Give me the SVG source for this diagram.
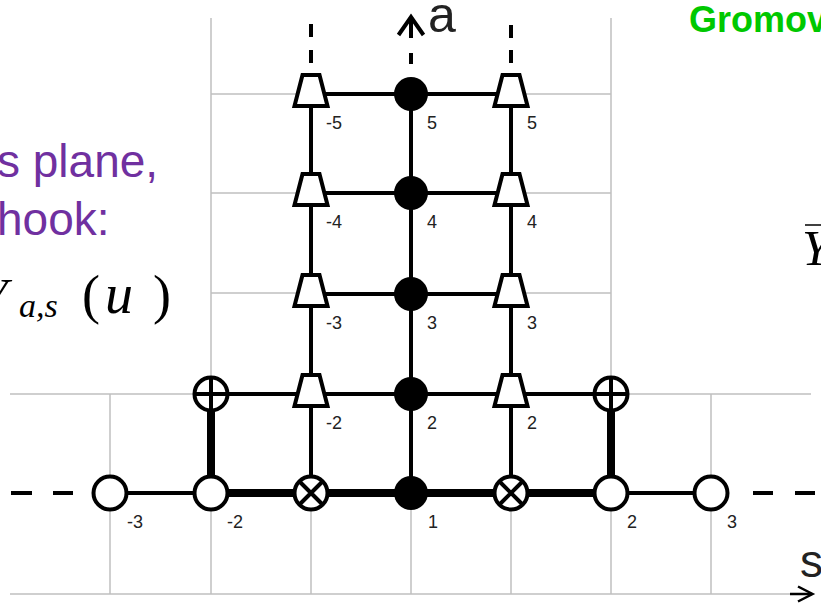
<svg xmlns="http://www.w3.org/2000/svg" width="821" height="606" viewBox="0 0 821 606">
<style>
.grid{stroke:#bfbfbf;stroke-width:1.5;fill:none}
.edge{stroke:#000;stroke-width:4;fill:none}
.thick{stroke:#000;stroke-width:8;fill:none}
.ax{stroke:#000;stroke-width:2.5;fill:none}
.open{fill:#fff;stroke:#000;stroke-width:4}
.filled{fill:#000}
.trap{fill:#fff;stroke:#000;stroke-width:4;stroke-linejoin:miter}
.lbl{font-family:"Liberation Sans",Arial,sans-serif;font-size:18px;fill:#222}
.big{font-family:"Liberation Sans",Arial,sans-serif;fill:#222}
.purple{font-family:"Liberation Sans",Arial,sans-serif;font-size:46px;fill:#7030a0}
.math{font-family:"Liberation Serif","Times New Roman",serif;fill:#000;font-style:italic}
.mathr{font-family:"Liberation Serif","Times New Roman",serif;fill:#000}
</style>
<defs>
<path id="trap" class="trap" d="M-8.5,-19 L8.5,-19 L16.5,12 L-16.5,12 Z"/>
<g id="otimes"><circle r="16.5" class="open"/><path class="edge" d="M-11.5,-11.5 L11.5,11.5 M-11.5,11.5 L11.5,-11.5"/></g>
<g id="oplus"><circle r="16.5" class="open"/><path class="edge" d="M-16.5,0 L16.5,0 M0,-16.5 L0,16.5"/></g>
</defs>

<g id="grid">
<line class="grid" x1="10" y1="594" x2="790" y2="594"/>
<line class="grid" x1="10" y1="394" x2="811" y2="394"/>
<line class="grid" x1="211" y1="94" x2="611" y2="94"/>
<line class="grid" x1="211" y1="193" x2="611" y2="193"/>
<line class="grid" x1="211" y1="293" x2="611" y2="293"/>
<line class="grid" x1="211" y1="18" x2="211" y2="594"/>
<line class="grid" x1="611" y1="18" x2="611" y2="594"/>
<line class="grid" x1="110" y1="394" x2="110" y2="594"/>
<line class="grid" x1="311" y1="394" x2="311" y2="594"/>
<line class="grid" x1="411" y1="394" x2="411" y2="594"/>
<line class="grid" x1="511" y1="394" x2="511" y2="594"/>
<line class="grid" x1="711" y1="394" x2="711" y2="594"/>
</g>

<g id="text">
<text class="purple" x="-3" y="177">s plane,</text>
<text class="purple" x="-3" y="235">hook:</text>
<text class="math" x="-20" y="313" font-size="50">Y</text>
<text class="math" x="19" y="317" font-size="34">a,s</text>
<text class="mathr" x="82" y="313" font-size="54">(</text>
<text class="math" x="105" y="313" font-size="56">u</text>
<text class="mathr" x="153" y="313" font-size="54">)</text>
<text x="689" y="32" font-family="'Liberation Sans',Arial,sans-serif" font-weight="bold" font-size="36" fill="#00c800">Gromov</text>
<line x1="805" y1="225" x2="821" y2="225" stroke="#000" stroke-width="1.5"/>
<text class="math" x="802" y="265" font-size="50">Y</text>
</g>

<g id="axes">
<line class="ax" x1="790" y1="594" x2="812" y2="594"/>
<polyline class="ax" points="798,586.5 812.5,594 798,601.5"/>
<text class="big" x="800" y="577" font-size="46">s</text>
<path class="edge" d="M411,64 L411,53 M411,38 L411,20"/>
<polyline class="edge" points="398.5,35 411,17 423.5,35"/>
<text class="big" x="428" y="32" font-size="50">a</text>
</g>

<g id="connectors">
<path class="edge" d="M311,63 L311,50 M311,37 L311,24"/>
<path class="edge" d="M511,63 L511,50 M511,38 L511,25"/>
<path class="edge" d="M11,493 L32,493 M53,493 L73,493"/>
<path class="edge" d="M753,493 L773,493 M795,493 L815,493"/>
<line class="edge" x1="110" y1="493" x2="211" y2="493"/>
<line class="edge" x1="611" y1="493" x2="711" y2="493"/>
<line class="thick" x1="211" y1="493" x2="611" y2="493"/>
<line class="thick" x1="211" y1="394" x2="211" y2="493"/>
<line class="thick" x1="611" y1="394" x2="611" y2="493"/>
<line class="edge" x1="211" y1="394" x2="611" y2="394"/>
<line class="edge" x1="311" y1="294" x2="511" y2="294"/>
<line class="edge" x1="311" y1="193" x2="511" y2="193"/>
<line class="edge" x1="311" y1="94" x2="511" y2="94"/>
<line class="edge" x1="311" y1="94" x2="311" y2="493"/>
<line class="edge" x1="411" y1="94" x2="411" y2="493"/>
<line class="edge" x1="511" y1="94" x2="511" y2="493"/>
</g>

<g id="n_s-3"><circle class="open" cx="110" cy="493" r="16.5"/><text class="lbl" x="127" y="528">-3</text></g>
<g id="n_s-2"><circle class="open" cx="211" cy="493" r="16.5"/><text class="lbl" x="227" y="528">-2</text></g>
<g id="n_x-1"><use href="#otimes" x="311" y="493"/></g>
<g id="n_s1"><circle class="filled" cx="411" cy="493" r="17"/><text class="lbl" x="428" y="528">1</text></g>
<g id="n_x1"><use href="#otimes" x="511" y="493"/></g>
<g id="n_s2"><circle class="open" cx="611" cy="493" r="16.5"/><text class="lbl" x="627" y="528">2</text></g>
<g id="n_s3"><circle class="open" cx="711" cy="493" r="16.5"/><text class="lbl" x="727" y="528">3</text></g>

<g id="n_pl"><use href="#oplus" x="211" y="394"/></g>
<g id="n_pr"><use href="#oplus" x="611" y="394"/></g>

<g id="n_t-2"><use href="#trap" x="311" y="394"/><text class="lbl" x="326" y="429">-2</text></g>
<g id="n_f2"><circle class="filled" cx="411" cy="394" r="17"/><text class="lbl" x="427" y="429">2</text></g>
<g id="n_t2"><use href="#trap" x="511" y="394"/><text class="lbl" x="527" y="429">2</text></g>

<g id="n_t-3"><use href="#trap" x="311" y="294"/><text class="lbl" x="326" y="329">-3</text></g>
<g id="n_f3"><circle class="filled" cx="411" cy="294" r="17"/><text class="lbl" x="427" y="329">3</text></g>
<g id="n_t3"><use href="#trap" x="511" y="294"/><text class="lbl" x="527" y="329">3</text></g>

<g id="n_t-4"><use href="#trap" x="311" y="193"/><text class="lbl" x="326" y="228">-4</text></g>
<g id="n_f4"><circle class="filled" cx="411" cy="193" r="17"/><text class="lbl" x="427" y="228">4</text></g>
<g id="n_t4"><use href="#trap" x="511" y="193"/><text class="lbl" x="527" y="228">4</text></g>

<g id="n_t-5"><use href="#trap" x="311" y="94"/><text class="lbl" x="326" y="129">-5</text></g>
<g id="n_f5"><circle class="filled" cx="411" cy="94" r="17"/><text class="lbl" x="427" y="129">5</text></g>
<g id="n_t5"><use href="#trap" x="511" y="94"/><text class="lbl" x="527" y="129">5</text></g>
</svg>
